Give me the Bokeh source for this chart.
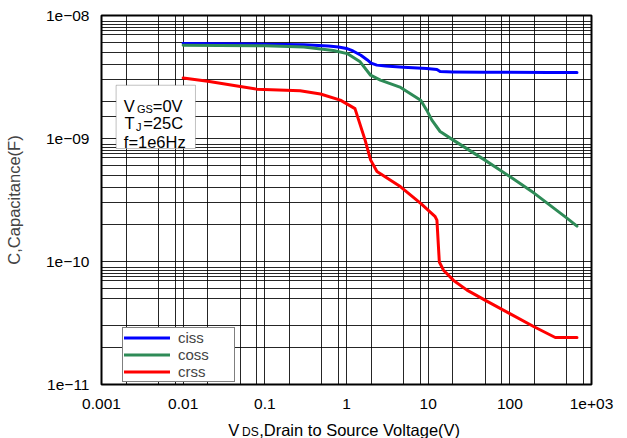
from bokeh.plotting import figure
from bokeh.layouts import column
from bokeh.models import FixedTicker, Label, BoxAnnotation, Legend, LegendItem, Range1d
from bokeh.embed import file_html
from bokeh.resources import INLINE

FONT = "Liberation Sans"

# ---- data ----
vds_ciss = [0.01, 0.03, 0.1, 0.3, 0.6, 0.8, 1.0, 1.2, 1.5, 1.8, 2.0, 2.35, 3, 5, 9.6, 12.8, 14, 20, 50, 100, 300, 664]
ciss = [5.92e-9, 5.9e-9, 5.85e-9, 5.78e-9, 5.65e-9, 5.55e-9, 5.4e-9, 5.15e-9, 4.75e-9, 4.35e-9, 4.1e-9,
        3.95e-9, 3.88e-9, 3.8e-9, 3.7e-9, 3.64e-9, 3.5e-9, 3.48e-9, 3.46e-9, 3.45e-9, 3.44e-9, 3.44e-9]

vds_coss = [0.01, 0.1, 0.3, 0.69, 1.02, 1.47, 1.97, 2.6, 4.6, 8.1, 9.6, 11.1, 14, 20.3, 49.6, 100, 198, 500, 664]
coss = [5.74e-9, 5.68e-9, 5.55e-9, 5.2e-9, 4.9e-9, 4.2e-9, 3.27e-9, 2.98e-9, 2.6e-9, 2.05e-9, 1.7e-9,
        1.41e-9, 1.14e-9, 9.7e-10, 6.67e-10, 4.9e-10, 3.6e-10, 2.25e-10, 1.94e-10]

vds_crss = [0.01, 0.02, 0.05, 0.08, 0.27, 0.48, 0.84, 1.1, 1.27, 1.41, 1.69, 1.97, 2.36, 4.6, 8.1, 12.1,
            12.8, 13.7, 15.4, 20.3, 29.9, 49.6, 100, 198, 360, 664]
crss = [3.11e-9, 2.92e-9, 2.65e-9, 2.52e-9, 2.44e-9, 2.3e-9, 2.05e-9, 1.85e-9, 1.75e-9, 1.41e-9, 9.7e-10,
        6.7e-10, 5.4e-10, 4.05e-10, 2.97e-10, 2.33e-10, 2.17e-10, 9.9e-11, 8.5e-11, 7.05e-11, 5.85e-11,
        4.85e-11, 3.77e-11, 2.95e-11, 2.41e-11, 2.41e-11]

series_names = ["ciss", "coss", "crss"]
series_colors = ["#0000FF", "#2E8B57", "#FF0000"]

x_ticks = [0.001, 0.01, 0.1, 1, 10, 100, 1000]
x_tick_labels = ["0.001", "0.01", "0.1", "1", "10", "100", "1e+03"]
y_ticks = [1e-11, 1e-10, 1e-9, 1e-8]
y_tick_labels = ["1e\u221211", "1e\u221210", "1e\u221209", "1e\u221208"]

x_grid_vals = [0.001, 0.002, 0.005, 0.008, 0.01, 0.02, 0.05, 0.08, 0.1, 0.2, 0.5, 0.8, 1, 2, 5, 8,
               10, 20, 50, 80, 100, 200, 500, 800, 1000]
y_grid_vals = [1e-11, 2e-11, 3e-11, 5e-11, 6e-11, 7e-11, 7.5e-11, 8e-11, 8.5e-11, 9e-11,
               1e-10, 2e-10, 3e-10, 4e-10, 5e-10, 6e-10, 7e-10, 7.5e-10, 8e-10, 8.5e-10, 9e-10,
               1e-9, 1.5e-9, 2e-9, 3e-9, 4e-9, 5e-9, 6e-9, 7e-9, 7.5e-9, 8e-9, 8.5e-9, 9e-9, 1e-8]

p = figure(width=627, height=411, x_axis_type="log", y_axis_type="log",
           x_range=Range1d(1e-3, 1e3), y_range=Range1d(1e-11, 1e-8),
           output_backend="svg", toolbar_location=None,
           min_border_left=101, min_border_right=36, min_border_top=15, min_border_bottom=27)
p.background_fill_color = "white"
p.border_fill_color = "white"
p.outline_line_color = "black"
p.outline_line_width = 2

for ax in (p.xaxis, p.yaxis):
    ax.axis_line_color = None
    ax.major_tick_line_color = None
    ax.minor_tick_line_color = None
    ax.major_label_text_font = FONT
    ax.major_label_text_font_size = "15.5px"
    ax.major_label_text_color = "black"

p.xaxis.ticker = FixedTicker(ticks=x_ticks)
p.xaxis.major_label_overrides = dict(zip(x_ticks, x_tick_labels))
p.xaxis.major_label_standoff = 8
p.yaxis.ticker = FixedTicker(ticks=y_ticks)
p.yaxis.major_label_overrides = dict(zip(y_ticks, y_tick_labels))
p.yaxis.major_label_standoff = 6
p.yaxis.axis_label = "C,Capacitance(F)"
p.yaxis.axis_label_text_font = FONT
p.yaxis.axis_label_text_font_size = "16.5px"
p.yaxis.axis_label_text_font_style = "normal"
p.yaxis.axis_label_standoff = 20

p.xgrid.ticker = FixedTicker(ticks=x_grid_vals)
p.ygrid.ticker = FixedTicker(ticks=y_grid_vals)
for g in (p.xgrid, p.ygrid):
    g.grid_line_color = "black"
    g.grid_line_alpha = 0.85
    g.grid_line_width = 1

renderers = []
for xs, ys, c in zip([vds_ciss, vds_coss, vds_crss], [ciss, coss, crss], series_colors):
    r = p.line(xs, ys, line_color=c, line_width=3, line_join="round", line_cap="round")
    renderers.append(r)

legend = Legend(items=[LegendItem(label=n, renderers=[r]) for n, r in zip(series_names, renderers)],
                location=(21, 2), padding=1, spacing=0, margin=0,
                label_height=15, glyph_height=15, glyph_width=46, label_standoff=8, label_width=55,
                label_text_font=FONT, label_text_font_size="15px", label_text_line_height=1.0,
                border_line_color="black", border_line_width=1, background_fill_alpha=1)
p.add_layout(legend)

# condition box
p.add_layout(BoxAnnotation(left=0.00151, right=0.01415, top=2.71e-9, bottom=8.29e-10,
                           fill_color="white", fill_alpha=1, line_color="#333333", line_width=1))

def lab(fig, x, y, t, size):
    fig.add_layout(Label(x=x, y=y, x_units="screen", y_units="screen", text=t,
                         text_font=FONT, text_font_size=size, text_baseline="alphabetic",
                         text_color="black"))

big, small = "16.5px", "11px"
lab(p, 22.3, 279, "V", big)
lab(p, 35.5, 276, "GS", small)
lab(p, 51.3, 279, "=0V", big)
lab(p, 23, 261.3, "T", big)
lab(p, 34.5, 258, "J", small)
lab(p, 41.7, 261.3, "=25C", big)
lab(p, 22.3, 242.3, "f=1e6Hz", big)

# strip under the chart carrying the x axis title (with subscript)
p2 = figure(width=627, height=27, x_axis_type="log", x_range=p.x_range, y_range=Range1d(0, 1),
            output_backend="svg", toolbar_location=None,
            x_axis_location=None, y_axis_location=None,
            min_border_left=101, min_border_right=36, min_border_top=0, min_border_bottom=0)
p2.outline_line_color = None
p2.grid.visible = False
p2.background_fill_color = "white"
p2.border_fill_color = "white"

lab(p2, 126.7, 8.5, "V", big)
lab(p2, 140.5, 6.5, "DS", "12px")
lab(p2, 157.7, 8.5, ",Drain to Source Voltage(V)", big)

layout = column(p, p2, spacing=0)
open("out.html", "w").write(file_html(layout, INLINE))
